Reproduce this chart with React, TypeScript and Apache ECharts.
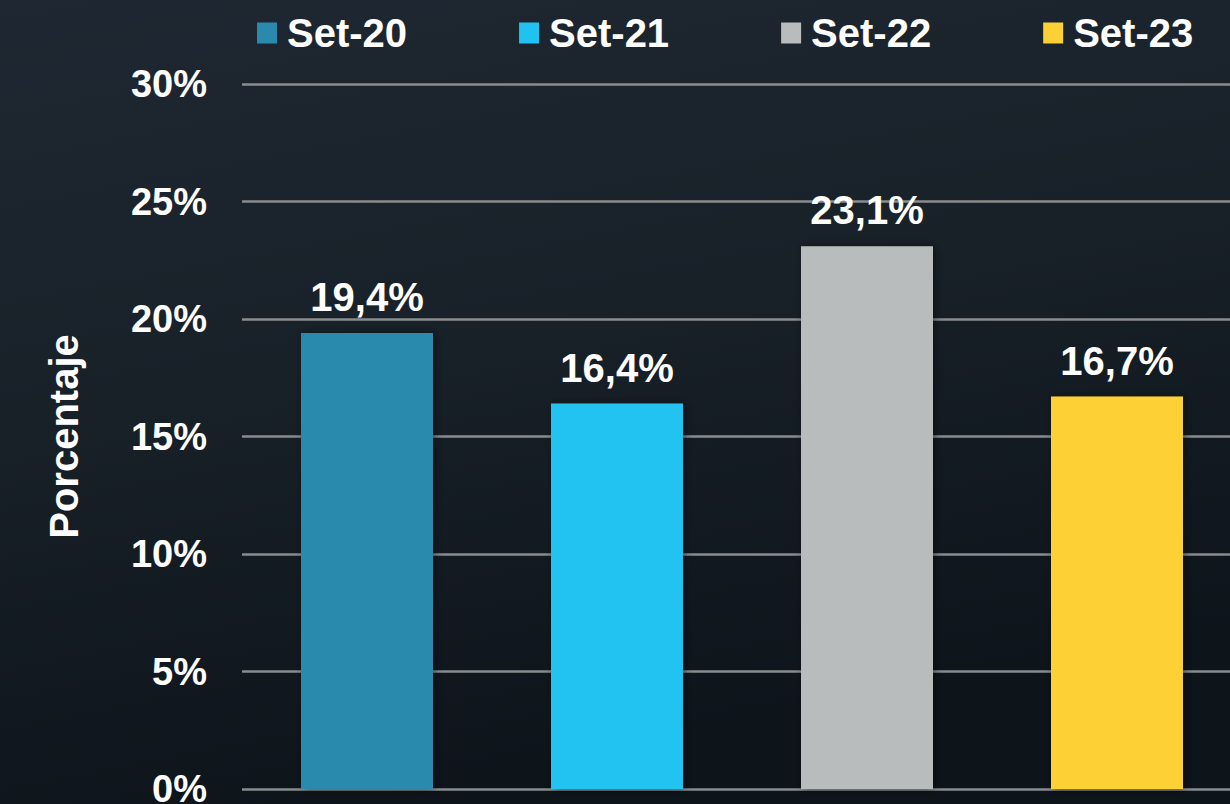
import React, { useEffect, useRef } from "react";
import * as echarts from "echarts";

const categories = ["Set-20", "Set-21", "Set-22", "Set-23"];
const values = [19.4, 16.4, 23.1, 16.7];
const colors = ["#2a8aae", "#20c3f0", "#b8bcbc", "#fdd135"];
const yTicks = [0, 5, 10, 15, 20, 25, 30];

const FONT = "'Liberation Sans', Arial, Helvetica, sans-serif";

export default function App() {
  const ref = useRef<HTMLDivElement>(null);
  useEffect(() => {
    if (!ref.current) return;
    const chart = echarts.init(ref.current, null, { renderer: "svg" });
    const series = categories.map((name, i) => ({
      name,
      type: "bar",
      stack: "all",
      barWidth: 132,
      data: categories.map((_, j) => (j === i ? values[i] : "-")),
      itemStyle: {
        color: colors[i],
        shadowBlur: 8,
        shadowColor: "rgba(0,0,0,0.45)",
        shadowOffsetX: 2,
      },
      label: {
        show: true,
        position: "top",
        distance: 16,
        color: "#ffffff",
        fontSize: 40,
        fontWeight: "bold",
        fontFamily: FONT,
        formatter: (p: any) => String(p.value).replace(".", ",") + "%",
      },
    }));
    chart.setOption({
      animation: false,
      backgroundColor: {
        type: "linear",
        x: 0,
        y: 0,
        x2: 0.3,
        y2: 1,
        colorStops: [
          { offset: 0, color: "#1f2832" },
          { offset: 0.5, color: "#182028" },
          { offset: 1, color: "#0d141a" },
        ],
      },
      legend: {
        left: 252,
        top: 8,
        itemWidth: 20,
        itemHeight: 21,
        itemGap: 112,
        icon: "rect",
        textStyle: {
          color: "#ffffff",
          fontSize: 40,
          fontWeight: "bold",
          fontFamily: FONT,
          width: 130,
          padding: [0, 0, 0, 5],
        },
        data: categories,
      },
      grid: {
        left: 242,
        top: 84,
        width: 1000,
        height: 705,
        outerBoundsMode: "none",
        containLabel: false,
      },
      xAxis: {
        type: "category",
        data: categories,
        axisLine: { show: false },
        axisTick: { show: false },
        axisLabel: { show: false },
      },
      yAxis: {
        type: "value",
        min: yTicks[0],
        max: yTicks[yTicks.length - 1],
        interval: 5,
        name: "Porcentaje",
        nameLocation: "middle",
        nameRotate: 90,
        nameGap: 158,
        nameTextStyle: {
          color: "#ffffff",
          fontSize: 40,
          fontWeight: "bold",
          fontFamily: FONT,
        },
        axisLine: { show: false },
        axisTick: { show: false },
        axisLabel: {
          color: "#ffffff",
          fontSize: 38,
          fontWeight: "bold",
          fontFamily: FONT,
          margin: 35,
          formatter: (v: number) => v + "%",
        },
        splitLine: {
          show: true,
          lineStyle: {
            color: "#8a8c8e",
            width: 2.5,
          },
        },
      },
      series,
    });
    return () => chart.dispose();
  }, []);
  return (
    <div style={{ position: "fixed", left: 0, top: 0, width: 1230, height: 804, overflow: "hidden" }}>
      <div ref={ref} style={{ width: 1250, height: 804 }} />
    </div>
  );
}
